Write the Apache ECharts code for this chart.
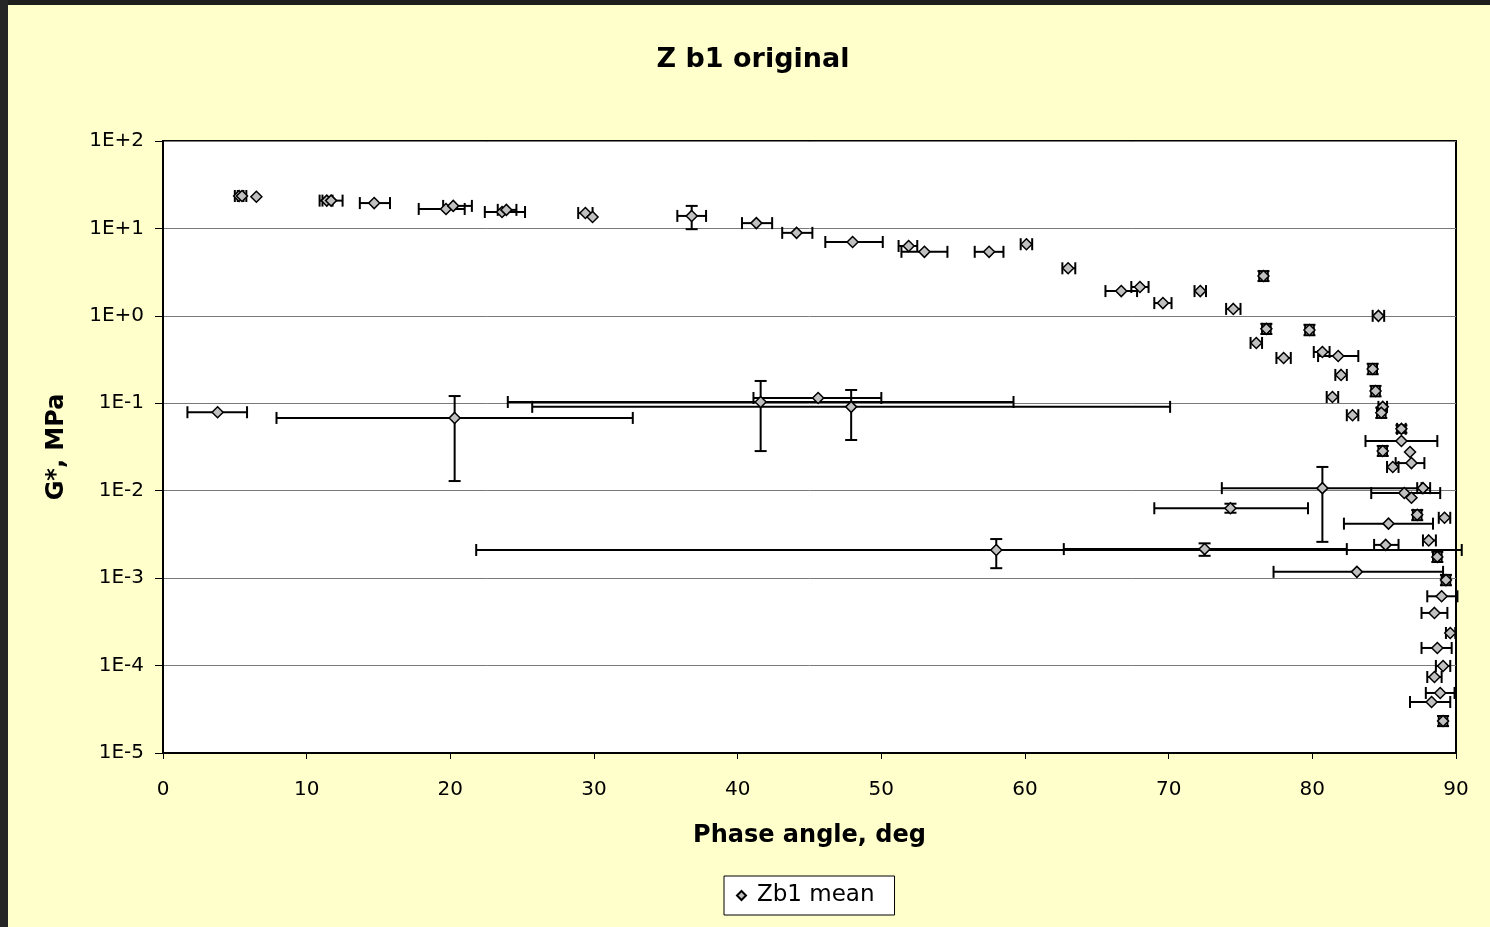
<!DOCTYPE html>
<html>
<head>
<meta charset="utf-8">
<script src="https://cdn.jsdelivr.net/npm/echarts@6/dist/echarts.min.js"></script>
<style>
  html, body { margin: 0; padding: 0; background: #FFFFCC; }
  #chart { position: absolute; left: 0; top: 0; width: 1490px; height: 927px; }
  .edge { position: absolute; background: #262626; pointer-events: none; }
</style>
</head>
<body>
<div id="chart"></div>
<div class="edge" style="left:0;top:0;width:1490px;height:5px;background:#1e1e1e;"></div>
<div class="edge" style="left:0;top:0;width:8px;height:927px;"></div>
<script>
// Mean complex modulus G* against phase angle, with spread bars (min / max)
const phaseAngle = [
  5.3, 5.5, 6.5, 11.4, 11.7, 14.7, 19.7, 20.2, 23.6, 23.9,
  29.4, 29.9, 36.8, 41.3, 44.1, 48.0, 51.9, 53.0, 57.5, 60.1,
  63.0, 66.7, 68.0, 69.6, 72.2, 74.5, 76.6, 84.6, 76.8, 79.8,
  76.1, 78.0, 80.7, 81.8, 84.2, 82.0, 84.4, 81.4, 84.9, 84.8,
  82.8, 86.2, 86.2, 84.9, 86.8, 86.9, 85.6, 87.7, 86.4, 86.9,
  87.3, 89.2, 85.3, 88.1, 85.1, 88.7, 83.1, 89.3, 89.0, 88.5,
  89.6, 88.7, 89.1, 88.5, 88.9, 88.3, 89.1,
  3.8, 20.3, 41.6, 45.6, 47.9, 58.0, 72.5, 74.3, 80.7
];
const gStar = [
  23.5, 23.5, 23.0, 20.8, 20.8, 19.5, 16.7, 18.1, 15.4, 16.3,
  15.0, 13.5, 13.9, 11.5, 8.9, 7.0, 6.3, 5.4, 5.4, 6.6,
  3.5, 1.92, 2.14, 1.40, 1.92, 1.20, 2.86, 1.0, 0.71, 0.69,
  0.49, 0.33, 0.386, 0.347, 0.247, 0.211, 0.138, 0.118, 0.091, 0.078,
  0.073, 0.051, 0.037, 0.0285, 0.0277, 0.0207, 0.0187, 0.0107, 0.0094, 0.0083,
  0.0053, 0.0049, 0.0042, 0.0027, 0.0024, 0.00175, 0.00118, 0.00095, 0.00062, 0.0004,
  0.000236, 0.000159, 0.000099, 0.000074, 0.0000486, 0.0000383, 0.0000232,
  0.079, 0.068, 0.1035, 0.115, 0.091, 0.0021, 0.00215, 0.0063, 0.0107
];
const phaseLow = [
  5.0, 5.2, null, 10.9, 11.1, 13.7, 17.8, 19.5, 22.4, 23.3,
  28.9, null, 35.8, 40.3, 43.1, 46.1, 51.2, 51.4, 56.5, 59.7,
  62.6, 65.6, 67.4, 69.0, 71.8, 74.0, 76.3, 84.2, 76.5, 79.5,
  75.7, 77.5, 80.1, 80.4, 83.9, 81.6, 84.1, 81.0, 84.6, 84.5,
  82.4, 85.9, 83.7, 84.6, null, 85.8, 85.2, 87.3, 84.1, null,
  87.0, 88.8, 82.2, 87.7, 84.3, 88.4, 77.3, 89.0, 88.0, 87.6,
  89.3, 87.6, 88.6, 88.0, 87.9, 86.8, 88.8,
  1.7, 7.9, 24.0, 41.1, 25.7, 21.8, 62.7, 69.0, 73.7
];
const phaseHigh = [
  5.6, 5.8, null, 11.8, 12.5, 15.8, 21.0, 21.5, 25.2, 24.6,
  29.9, null, 37.8, 42.4, 45.2, 50.1, 52.5, 54.6, 58.5, 60.5,
  63.5, 67.8, 68.6, 70.2, 72.6, 75.0, 76.9, 85.0, 77.1, 80.1,
  76.5, 78.5, 81.2, 83.2, 84.5, 82.4, 84.7, 81.8, 85.2, 85.1,
  83.2, 86.5, 88.7, 85.2, null, 87.8, 86.0, 88.2, 88.9, null,
  87.6, 89.6, 88.4, 88.6, 86.0, 89.0, 89.1, 89.6, 90.1, 89.4,
  89.95, 89.7, 89.6, 89.0, 89.9, 89.6, 89.4,
  5.85, 32.7, 59.2, 50.0, 70.1, 90.4, 82.4, 79.7, 87.6
];
const gStarLow = [
  null, null, null, null, null, null, null, null, null, null,
  null, null, 9.8, null, null, null, null, null, null, null,
  null, null, null, null, null, null, 2.5, null, 0.62, 0.60,
  null, null, null, null, 0.215, null, 0.12, null, null, 0.068,
  null, 0.046, null, 0.025, null, null, null, null, null, null,
  0.0046, null, null, null, null, 0.00153, null, 0.00083, null, null,
  null, null, null, null, null, null, 0.0000203,
  null, 0.0129, 0.0284, null, 0.038, 0.0013, 0.0018, 0.0056, 0.0026
];
const gStarHigh = [
  null, null, null, null, null, null, null, null, null, null,
  null, null, 18.1, null, null, null, null, null, null, null,
  null, null, null, null, null, null, 3.25, null, 0.81, 0.79,
  null, null, null, null, 0.283, null, 0.158, null, null, 0.089,
  null, 0.056, null, 0.0325, null, null, null, null, null, null,
  0.006, null, null, null, null, 0.002, null, 0.00109, null, null,
  null, null, null, null, null, null, 0.0000265,
  null, 0.121, 0.18, null, 0.142, 0.0028, 0.0025, 0.0071, 0.0187
];
const xTicks = [0, 10, 20, 30, 40, 50, 60, 70, 80, 90];
const yTickLabels = ['1E-5', '1E-4', '1E-3', '1E-2', '1E-1', '1E+0', '1E+1', '1E+2'];

const FONT = 'DejaVu Sans';
const points = phaseAngle.map((a, i) => [a, gStar[i]]);
const bars = phaseAngle.map((a, i) => [a, gStar[i], phaseLow[i], phaseHigh[i], gStarLow[i], gStarHigh[i]]);

const CAP = 6;
function isNum(v) { return v !== null && v !== undefined && v !== '-' && !isNaN(v); }

// Horizontal and vertical spread bars with end caps
function renderBars(params, api) {
  const x = api.value(0), y = api.value(1);
  const xl = api.value(2), xh = api.value(3), yl = api.value(4), yh = api.value(5);
  const kids = [];
  const st = { stroke: '#000', lineWidth: 2 };
  const seg = (x1, y1, x2, y2) => kids.push({ type: 'line', shape: { x1, y1, x2, y2 }, style: st });
  if (isNum(xl) && isNum(xh)) {
    const a = api.coord([xl, y]), b = api.coord([xh, y]);
    seg(a[0], a[1], b[0], b[1]);
    seg(a[0], a[1] - CAP, a[0], a[1] + CAP);
    seg(b[0], b[1] - CAP, b[0], b[1] + CAP);
  }
  if (isNum(yl) && isNum(yh)) {
    const a = api.coord([x, yl]), b = api.coord([x, yh]);
    seg(a[0], a[1], b[0], b[1]);
    seg(a[0] - CAP, a[1], a[0] + CAP, a[1]);
    seg(b[0] - CAP, b[1], b[0] + CAP, b[1]);
  }
  return { type: 'group', children: kids };
}

const chart = echarts.init(document.getElementById('chart'), null, { renderer: 'canvas' });
chart.setOption({
  backgroundColor: '#FFFFCC',
  animation: false,
  title: {
    text: 'Z b1 original',
    left: 753, top: 46, textAlign: 'center', padding: 0,
    textStyle: { fontFamily: FONT, fontSize: 27, fontWeight: 'bold', color: '#000' }
  },
  legend: {
    left: 724, top: 876,
    padding: [8, 20, 8, 12],
    itemWidth: 9, itemHeight: 9,
    icon: 'diamond',
    backgroundColor: '#fff', borderColor: '#000', borderWidth: 1, borderRadius: 0,
    textStyle: { fontFamily: FONT, fontSize: 23, color: '#000', padding: [0, 0, 0, 6] },
    data: ['Zb1 mean']
  },
  grid: {
    left: 163, top: 141, width: 1293, height: 612,
    show: true, backgroundColor: '#fff', borderColor: '#000', borderWidth: 2
  },
  xAxis: {
    type: 'value', min: 0, max: 90, interval: 10,
    name: 'Phase angle, deg', nameLocation: 'middle', nameGap: 71,
    nameTextStyle: { fontFamily: FONT, fontSize: 24, fontWeight: 'bold', color: '#000' },
    axisLine: { show: true, lineStyle: { color: '#000', width: 2 } },
    axisTick: { show: true, length: 6, lineStyle: { color: '#000', width: 1 } },
    axisLabel: {
      margin: 27, fontFamily: FONT, fontSize: 20, color: '#000',
      formatter: v => xTicks.includes(v) ? String(v) : ''
    },
    splitLine: { show: false }
  },
  yAxis: {
    type: 'log', logBase: 10, min: 1e-5, max: 100,
    name: 'G*, MPa', nameLocation: 'middle', nameGap: 94, nameRotate: 90,
    nameTextStyle: { fontFamily: FONT, fontSize: 24, fontWeight: 'bold', color: '#000' },
    axisLine: { show: true, lineStyle: { color: '#000', width: 2 } },
    axisTick: { show: true, length: 8, lineStyle: { color: '#000', width: 1 } },
    axisLabel: {
      margin: 19, fontFamily: FONT, fontSize: 20, color: '#000',
      formatter: v => yTickLabels[Math.round(Math.log10(v)) + 5]
    },
    splitLine: { show: true, lineStyle: { color: '#7a7a7a', width: 1 } },
    minorTick: { show: false }
  },
  series: [
    {
      name: 'Zb1 error',
      type: 'custom',
      renderItem: renderBars,
      data: bars,
      encode: { x: 0, y: 1 },
      z: 2,
      clip: false,
      silent: true
    },
    {
      name: 'Zb1 mean',
      type: 'scatter',
      data: points,
      symbol: 'diamond',
      symbolSize: [11, 11],
      itemStyle: { color: '#C0C0C0', borderColor: '#000', borderWidth: 1.5, opacity: 1 },
      z: 3
    }
  ]
});
</script>
</body>
</html>
